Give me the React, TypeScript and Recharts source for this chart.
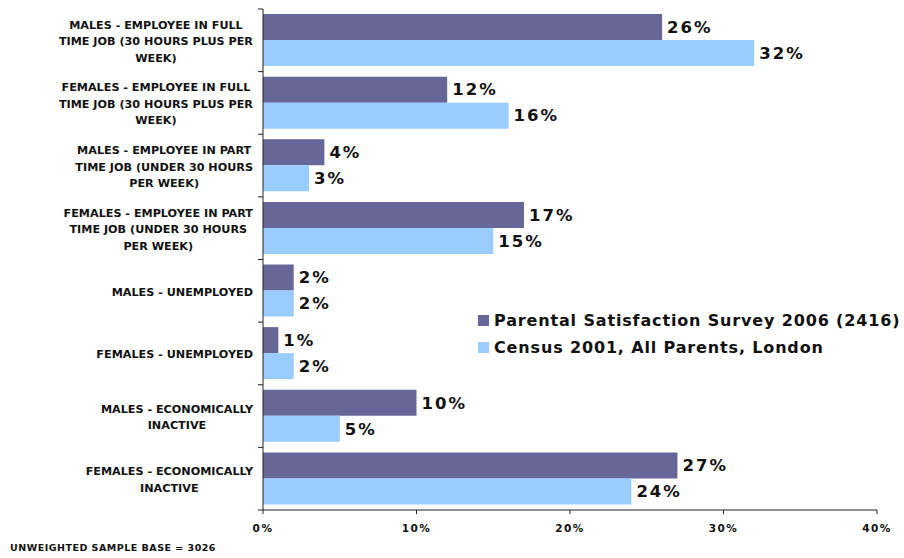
import React from "react";
import {
  BarChart,
  Bar,
  XAxis,
  YAxis,
  Legend,
  LabelList,
} from "recharts";

const categories = [
  "MALES - EMPLOYEE IN FULL\nTIME JOB (30 HOURS PLUS PER\nWEEK)",
  "FEMALES - EMPLOYEE IN FULL\nTIME JOB (30 HOURS PLUS PER\nWEEK)",
  "MALES - EMPLOYEE IN PART\nTIME JOB (UNDER 30 HOURS\nPER WEEK)",
  "FEMALES - EMPLOYEE IN PART\nTIME JOB (UNDER 30 HOURS\nPER WEEK)",
  "MALES - UNEMPLOYED",
  "FEMALES - UNEMPLOYED",
  "MALES - ECONOMICALLY\nINACTIVE",
  "FEMALES - ECONOMICALLY\nINACTIVE",
];

const surveyValues = [26, 12, 4, 17, 2, 1, 10, 27];
const censusValues = [32, 16, 3, 15, 2, 2, 5, 24];

const xTicks = [0, 10, 20, 30, 40];

const SURVEY_NAME = "Parental Satisfaction Survey 2006 (2416)";
const CENSUS_NAME = "Census 2001, All Parents, London";
const SAMPLE_NOTE = "UNWEIGHTED SAMPLE BASE = 3026";

const SURVEY_COLOR = "#666699";
const CENSUS_COLOR = "#99CCFF";

const data = categories.map((c, i) => ({
  category: c,
  survey: surveyValues[i],
  census: censusValues[i],
}));

const W = 904;
const H = 558;
const MARGIN = { top: 9, right: 27, left: 0, bottom: 18 };
const X_AXIS_H = 30;
const Y_AXIS_W = 263;
const BAND = (H - MARGIN.top - MARGIN.bottom - X_AXIS_H) / categories.length;

const FONT = "'DejaVu Sans', Verdana, sans-serif";
const LABEL_FONT_SIZE = 11.2;
const LINE_H = 16.5;

let canvasCtx: CanvasRenderingContext2D | null = null;
function textWidth(s: string) {
  if (!canvasCtx) {
    canvasCtx = document.createElement("canvas").getContext("2d");
  }
  if (!canvasCtx) return s.length * 7;
  canvasCtx.font = `bold ${LABEL_FONT_SIZE}px ${FONT}`;
  return canvasCtx.measureText(s).width;
}

function CategoryTick(props: any) {
  const { x, y, payload, index } = props;
  const lines: string[] = String(payload.value).split("\n");
  const blockW = Math.max(...lines.map(textWidth));
  const cx = x - blockW / 2;
  const axisX = x + 10;
  const firstY = y + 1 - ((lines.length - 1) * LINE_H) / 2;
  return (
    <g>
      <line x1={axisX - 5} x2={axisX} y1={y - BAND / 2} y2={y - BAND / 2} stroke="#222" />
      {index === categories.length - 1 && (
        <line x1={axisX - 5} x2={axisX} y1={y + BAND / 2} y2={y + BAND / 2} stroke="#222" />
      )}
      <text
        textAnchor="middle"
        fontFamily={FONT}
        fontWeight="bold"
        fontSize={LABEL_FONT_SIZE}
        fill="#111"
      >
        {lines.map((l, i) => (
          <tspan key={i} x={cx} y={firstY + i * LINE_H} dy="0.36em">
            {l}
          </tspan>
        ))}
      </text>
    </g>
  );
}

const legendItems = [
  { name: SURVEY_NAME, color: SURVEY_COLOR },
  { name: CENSUS_NAME, color: CENSUS_COLOR },
];

function renderLegend() {
  return (
    <div
      style={{
        fontFamily: FONT,
        fontWeight: "bold",
        fontSize: 16,
        letterSpacing: 0.85,
        color: "#111",
      }}
    >
      {legendItems.map((p) => (
        <div
          key={p.name}
          style={{ display: "flex", alignItems: "center", height: 27, whiteSpace: "nowrap" }}
        >
          <span
            style={{
              width: 11,
              height: 11,
              background: p.color,
              display: "inline-block",
              marginRight: 5,
            }}
          />
          {p.name}
        </div>
      ))}
    </div>
  );
}

const valueLabelStyle = {
  fontSize: 16.5,
  fontWeight: "bold",
  fill: "#111",
  fontFamily: FONT,
  letterSpacing: 2,
};

export default function App() {
  return (
    <div
      style={{
        position: "absolute",
        left: 0,
        top: 0,
        width: W,
        height: H,
        background: "#fff",
        fontFamily: FONT,
      }}
    >
      <BarChart
        width={W}
        height={H}
        data={data}
        layout="vertical"
        margin={MARGIN}
        barCategoryGap="8%"
        barGap={0}
      >
        <XAxis
          type="number"
          domain={[0, 40]}
          ticks={xTicks}
          tickFormatter={(v: number) => `${v}%`}
          height={X_AXIS_H}
          stroke="#222"
          tickSize={4}
          tickMargin={11}
          tick={{
            fontSize: 10.5,
            fontWeight: "bold",
            fill: "#111",
            fontFamily: FONT,
            letterSpacing: 1.5,
          }}
        />
        <YAxis
          type="category"
          dataKey="category"
          width={Y_AXIS_W}
          stroke="#222"
          tickLine={false}
          tickSize={5}
          tickMargin={5}
          interval={0}
          tick={<CategoryTick />}
        />
        <Legend
          layout="vertical"
          align="center"
          verticalAlign="middle"
          wrapperStyle={{ left: 478, top: 307, width: 426 }}
          content={renderLegend}
        />
        <Bar dataKey="survey" name={SURVEY_NAME} fill={SURVEY_COLOR} isAnimationActive={false}>
          <LabelList
            dataKey="survey"
            position="right"
            offset={5}
            formatter={(v: any) => `${v}%`}
            style={valueLabelStyle}
          />
        </Bar>
        <Bar dataKey="census" name={CENSUS_NAME} fill={CENSUS_COLOR} isAnimationActive={false}>
          <LabelList
            dataKey="census"
            position="right"
            offset={5}
            formatter={(v: any) => `${v}%`}
            style={valueLabelStyle}
          />
        </Bar>
      </BarChart>
      <div
        style={{
          position: "absolute",
          left: 10,
          top: 542,
          fontSize: 9.5,
          letterSpacing: 0.5,
          fontWeight: "bold",
          color: "#111",
          fontFamily: FONT,
        }}
      >
        {SAMPLE_NOTE}
      </div>
    </div>
  );
}
